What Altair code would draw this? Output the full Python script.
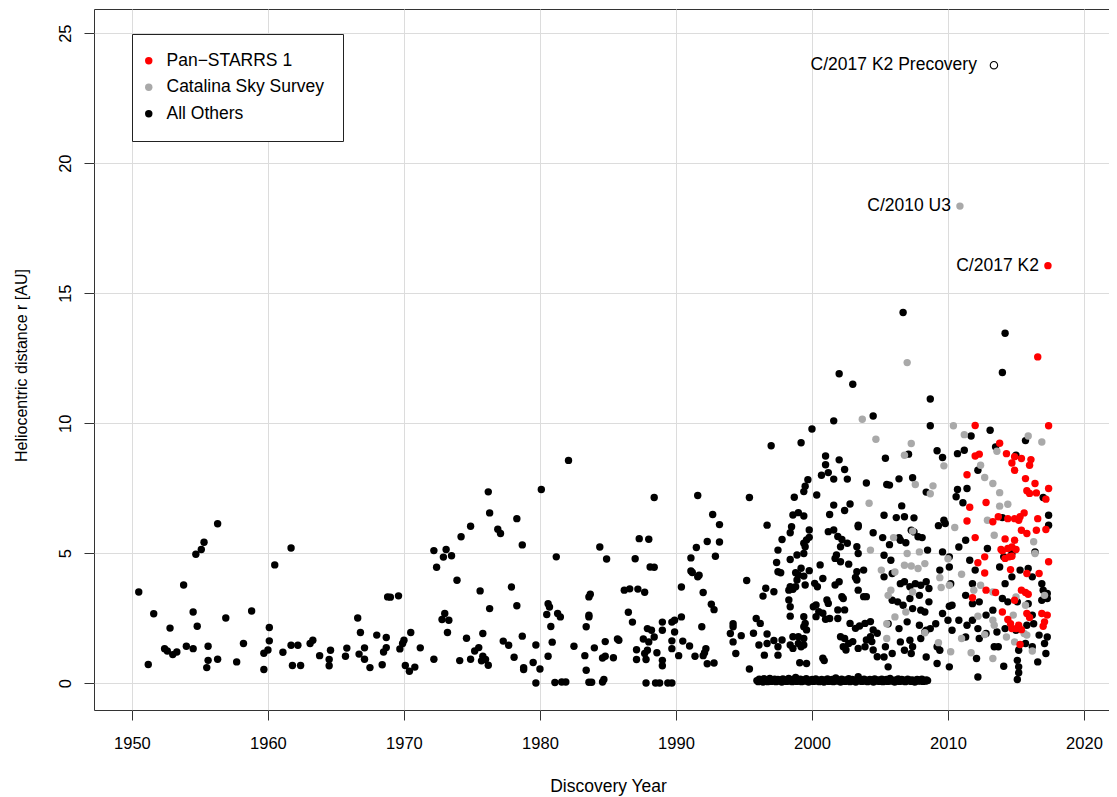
import altair as alt
import pandas as pd

FONT = "Liberation Sans, Arial, Helvetica, sans-serif"

SURVEYS = ["Pan\u2212STARRS 1", "Catalina Sky Survey", "All Others"]
COLORS = ["#ff0000", "#a9a9a9", "#000000"]
X_TICKS = [1950, 1960, 1970, 1980, 1990, 2000, 2010, 2020]
Y_TICKS = [0, 5, 10, 15, 20, 25]
X_DOMAIN = [1947.21, 2021.84]
Y_DOMAIN = [-1.03, 25.93]

OTHERS_EARLY = [
    (1950.5,3.51),(1951.2,0.72),(1951.6,2.67),(1952.8,2.12),(1952.4,1.33),(1952.6,1.24),(1953.0,1.10),(1953.3,1.20),
    (1953.8,3.78),(1954.0,1.42),(1954.5,2.74),(1954.5,1.33),(1954.8,2.19),(1954.7,4.96),(1955.1,5.14),(1955.3,5.42),
    (1956.3,6.13),(1955.6,1.42),(1955.6,0.88),(1955.5,0.60),(1956.3,0.92),(1956.9,2.51),(1957.7,0.82),(1958.2,1.53),
    (1958.8,2.78),(1959.7,0.53),(1959.7,1.15),(1960.0,1.28),(1960.1,1.63),(1960.1,2.14),(1960.5,4.55),(1961.7,5.20),
    (1961.1,1.19),(1961.7,1.46),(1962.2,1.46),(1961.8,0.68),(1962.4,0.68),(1963.1,1.53),(1963.3,1.65),(1963.8,1.06),
    (1964.5,0.67),(1964.5,0.91),(1964.6,1.27),(1965.7,1.04),(1965.8,1.35),(1966.6,2.51),(1966.8,1.95),(1966.7,1.12),
    (1967.1,1.36),(1967.1,0.92),(1967.5,0.60),(1968.0,1.85),(1968.4,0.71),(1968.7,1.76),(1968.7,1.37),(1968.5,1.20),
    (1968.8,3.32),(1969.0,3.31),(1969.6,3.36),(1969.7,1.32),(1969.9,1.53),(1970.0,1.65),(1970.5,1.95),(1970.1,0.68),
    (1970.4,0.46),(1970.8,0.62),(1971.2,1.36),(1972.2,0.92),(1972.2,5.10),(1972.4,4.46),(1972.9,4.85),(1973.1,5.14),
    (1972.8,2.45),(1973.0,2.68),(1973.2,1.95),(1973.5,4.90),(1973.9,3.96),(1973.3,2.42),(1974.2,5.63),(1974.9,6.04),
    (1976.2,7.36),(1976.3,6.55),(1976.9,5.92),(1977.1,5.76),(1978.3,6.33),(1978.7,5.32),(1975.6,3.55),(1976.3,2.87),
    (1977.9,3.70),(1978.3,2.98),(1974.6,1.73),(1975.8,1.91),(1975.2,1.24),(1975.5,1.37),(1974.1,0.87),(1974.9,0.92),
    (1975.8,1.04),(1975.7,0.86),(1976.0,0.91),(1976.2,0.69),(1977.3,1.62),(1977.7,1.46),(1978.1,1.00),(1978.7,1.81),
    (1978.8,0.60),(1978.8,0.53),(1979.7,1.47),(1979.5,0.80),(1980.0,0.55),(1979.7,0.01),(1980.1,7.45),(1981.2,4.86),
    (1982.1,8.57),(1980.5,2.64),(1980.6,3.06),(1980.7,2.93),(1980.8,2.18),(1981.3,2.68),(1981.5,2.55),(1980.9,1.58),
    (1980.6,1.04),(1982.5,1.42),(1981.1,0.03),(1981.6,0.05),(1981.9,0.05),(1983.3,1.06),(1983.4,0.50),(1983.4,2.17),
    (1983.6,3.32),(1983.7,3.42),(1983.6,2.55),(1983.6,2.62),(1983.6,0.04),(1983.8,0.04),(1984.0,1.36),(1984.6,0.97),
    (1984.8,1.04),(1985.4,0.98),(1984.8,1.60),(1984.4,5.24),(1984.9,4.78),(1984.6,0.05),(1984.7,0.14),(1985.7,1.70),
    (1985.8,1.65),(1986.2,3.58),(1986.6,3.63),(1987.2,3.62),(1987.7,3.50),(1986.5,2.73),(1986.8,2.35),(1987.0,4.79),
    (1987.3,5.56),(1988.0,5.54),(1988.1,4.47),(1988.4,4.46),(1988.4,7.14),(1987.1,1.29),(1987.1,0.91),(1987.6,1.70),
    (1987.7,1.14),(1987.8,0.91),(1987.9,1.27),(1987.9,2.10),(1988.0,1.59),(1988.2,2.04),(1988.4,1.78),(1988.6,1.17),
    (1989.0,0.88),(1989.0,0.67),(1989.0,2.35),(1989.0,2.04),(1989.7,2.35),(1989.9,2.42),(1989.7,1.63),(1989.7,1.33),
    (1989.9,1.97),(1990.2,1.06),(1990.5,1.62),(1990.4,2.55),(1991.0,1.43),(1987.8,0.01),(1988.5,0.01),(1988.8,0.01),
    (1989.4,0.01),(1989.7,0.01),(1990.4,3.70),(1991.1,4.82),(1991.5,5.22),(1991.6,7.22),(1991.1,4.32),(1991.2,4.26),
    (1991.6,4.09),(1991.7,4.15),(1992.0,3.49),(1992.3,5.45),(1992.7,6.49),(1992.9,4.88),(1993.2,6.10),(1993.2,5.43),
    (1991.9,2.17),(1991.4,1.04),(1992.0,1.06),(1992.1,1.17),(1992.2,1.33),(1992.3,0.75),(1992.8,0.78),(1992.6,3.04),
    (1992.8,2.83),(1994.0,1.91),(1994.2,2.29),(1994.2,2.17),(1994.2,1.59),(1994.4,1.14),(1994.8,1.83),(1995.2,3.95),
    (1995.4,7.14),(1995.4,0.55),
]

OTHERS_1995_2005 = [
    (1997.0,9.13),(1999.2,9.25),(1999.7,7.83),(1999.5,7.58),(2000.0,9.78),(2001.6,10.09),(2002.0,11.90),(2003.0,11.50),
    (2004.5,10.28),(2001.0,8.74),(2002.0,8.59),(2001.0,8.40),(2001.2,8.10),(2000.7,8.00),(2001.6,7.85),(2002.4,8.22),
    (2002.6,7.85),(2004.0,7.70),
    (1998.7,7.15),(1999.4,7.37),(2000.35,7.24),(2001.6,6.85),(2002.8,6.89),(2002.4,6.64),(2001.3,6.49),(2003.4,6.08),
    (2003.4,6.02),(2004.5,5.79),(1998.6,6.47),(1999.0,6.56),(1999.4,6.43),(1996.7,6.08),(1998.5,6.02),(1998.4,5.79),
    (1999.8,5.89),(1997.8,5.53),(1997.5,5.12),(1997.4,4.64),(1997.5,4.29),(1997.7,4.25),(1999.4,5.38),(1999.6,5.51),
    (1999.8,5.61),(1999.5,5.25),(1999.4,4.99),(1998.4,4.76),(1998.9,4.93),(1999.2,4.42),(1999.8,4.33),(1998.8,4.25),
    (1998.9,3.97),(1999.0,4.16),(1999.4,4.12),(1999.5,3.78),(1998.4,3.71),(1998.3,3.58),(1998.6,3.61),(1998.8,3.71),
    (2000.6,4.55),(2000.8,4.03),(2000.2,3.84),(2000.4,3.71),(2000.1,2.94),(2000.3,3.01),(2000.5,2.75),(2000.3,2.56),
    (2001.2,5.83),(2001.6,5.89),(2001.9,5.64),(2002.2,5.53),(2002.6,5.38),(2002.1,5.25),(2001.8,4.93),(2001.7,4.80),
    (2002.1,4.67),(2002.7,4.58),(2003.3,5.25),(2003.4,4.99),(2003.3,4.29),(2003.8,4.35),(2003.2,4.07),(2003.3,3.97),
    (2003.4,3.58),(2003.8,3.33),(2004.0,3.33),(2001.7,3.78),(2002.0,3.90),(2002.2,3.33),(2002.3,3.26),(2002.4,2.82),
    (2001.9,2.82),(2001.9,2.49),(2001.1,3.20),(2001.2,3.07),(2000.8,2.69),(2001.0,2.46),(2001.3,2.49),(2002.8,2.30),
    (2003.2,2.11),(2003.5,2.20),(2003.9,2.30),(2004.3,2.37),(2004.5,2.05),(2004.8,1.92),(2004.3,1.79),(2004.0,1.66),
    (2002.1,1.79),(2002.4,1.72),(2002.7,1.53),(2003.0,1.60),(2002.3,1.40),(2002.5,1.28),(2003.4,1.34),(2003.9,1.40),
    (2004.4,1.60),(2004.5,1.28),(2004.8,1.02),(1995.7,1.92),(1996.7,1.89),(1996.1,1.47),(1996.7,1.53),(1997.2,1.64),
    (1997.5,1.40),(1997.8,1.66),(1998.4,1.47),(1998.6,1.79),(1999.0,1.79),(1999.4,1.72),(1998.6,1.34),(1999.0,1.53),
    (1999.2,1.40),(1999.4,1.47),(1995.9,2.49),(1996.2,2.30),(1996.5,1.08),(1997.5,1.08),(1999.1,0.79),(1999.6,0.76),
    (2000.8,0.96),(2000.9,0.87),(1998.3,3.20),(1998.4,2.94),(1998.4,2.58),(1999.4,2.56),(1999.5,2.30),(1999.4,2.17),
    (1999.6,2.05),(1996.6,3.65),(1997.2,3.52),(1996.4,3.35),
]

OTHERS_2005_2010 = [
    (2006.7,14.26),(2008.7,10.93),(2008.7,9.90),(2005.4,8.65),(2007.1,8.81),(2009.2,8.94),(2009.6,8.68),(2006.4,7.86),
    (2007.4,7.90),(2005.5,7.64),(2005.7,7.62),(2008.4,7.35),(2006.6,6.82),(2005.3,6.46),(2006.2,6.37),(2006.8,6.40),
    (2007.5,6.36),(2009.3,6.06),(2009.7,6.27),(2009.8,6.14),(2006.4,5.60),(2006.5,5.50),(2006.9,5.40),(2007.3,5.88),
    (2007.5,5.82),(2007.8,5.63),(2008.1,5.60),(2008.5,5.12),(2005.2,5.60),(2005.7,5.33),(2009.6,5.05),(2010.1,4.86),
    (2009.4,4.35),(2010.1,4.47),(2010.2,3.83),(2010.3,3.00),(2010.1,2.96),(2009.6,2.68),(2010.0,2.42),(2010.3,2.04),
    (2009.4,1.27),(2009.2,1.40),(2010.1,0.63),(2009.2,0.76),(2005.3,4.92),(2005.8,4.73),(2005.3,4.09),(2005.9,4.22),
    (2006.5,3.83),(2006.8,3.90),(2007.2,3.71),(2007.6,3.83),(2008.0,3.77),(2008.4,3.90),(2008.6,3.64),(2005.9,3.19),
    (2006.3,3.13),(2006.7,3.00),(2007.2,3.26),(2007.4,2.87),(2007.9,3.38),(2008.0,2.81),(2008.3,2.74),(2008.6,3.13),
    (2005.6,2.29),(2006.4,2.10),(2007.0,2.36),(2007.9,2.23),(2008.4,2.04),(2008.7,2.10),(2009.1,2.29),(2006.5,1.59),
    (2007.2,1.65),(2007.4,1.40),(2008.0,1.72),(2008.3,1.97),(2005.4,1.40),(2005.3,1.01),(2005.9,1.14),(2006.8,1.27),
    (2007.3,1.14),(2008.4,1.01),(2005.6,0.63),
]

OTHERS_2010_2018 = [
    (2014.2,13.46),(2014.0,11.95),(2013.1,9.73),(2011.7,9.51),(2013.5,9.09),(2015.7,9.33),(2015.0,8.77),(2010.7,8.83),
    (2011.2,8.96),(2012.2,8.19),(2010.7,7.45),(2010.6,7.17),(2011.4,7.49),(2011.1,6.94),(2017.0,7.14),(2017.4,6.46),
    (2017.4,6.08),(2011.3,5.50),(2012.9,5.18),(2014.0,6.37),(2014.1,4.86),(2014.7,4.99),(2010.8,5.24),(2011.6,4.73),
    (2012.0,4.35),(2011.8,3.83),(2013.8,4.47),(2014.2,3.83),(2014.7,4.09),(2015.3,4.35),(2015.9,4.41),(2016.2,4.09),
    (2016.4,5.05),(2016.9,3.83),(2017.0,3.58),(2017.3,3.45),(2011.3,3.38),(2011.8,3.06),(2012.3,3.13),(2012.8,2.62),
    (2013.3,2.81),(2014.0,3.26),(2014.4,3.13),(2015.1,3.13),(2015.9,3.06),(2016.2,2.62),(2016.9,3.19),(2017.3,3.26),
    (2010.8,2.42),(2011.4,2.23),(2011.8,2.42),(2012.2,2.10),(2012.8,1.91),(2013.6,1.97),(2014.2,2.10),(2015.0,2.04),
    (2015.8,2.23),(2016.3,2.29),(2016.7,1.85),(2017.1,1.53),(2017.3,1.78),(2011.3,1.78),(2012.3,1.72),(2013.4,1.40),
    (2013.7,1.40),(2015.2,1.27),(2015.7,1.53),(2016.2,1.40),(2016.6,0.82),(2017.2,1.14),(2012.1,0.95),(2012.2,0.24),
    (2014.1,0.65),(2015.1,0.88),(2015.2,0.63),(2015.2,0.40),(2015.1,0.14),
]

OTHERS_ZERO_BAND = [
    (1995.95,0.10),(1996.05,0.06),(1996.12,0.15),(1996.2,0.08),(1996.31,0.12),(1996.4,0.05),(1996.47,0.17),(1996.55,0.09),
    (1996.66,0.13),(1996.74,0.06),(1996.83,0.11),(1996.9,0.18),(1997.0,0.07),(1997.08,0.12),(1997.17,0.09),(1997.26,0.15),
    (1997.35,0.06),(1997.42,0.11),(1997.5,0.14),(1997.61,0.08),(1997.7,0.12),(1997.78,0.05),(1997.86,0.16),(1997.95,0.09),
    (1998.03,0.13),(1998.12,0.07),(1998.2,0.11),(1998.29,0.18),(1998.37,0.08),(1998.46,0.12),(1998.55,0.06),(1998.63,0.14),
    (1998.72,0.10),(1998.8,0.22),(1998.88,0.07),(1998.97,0.12),(1999.06,0.09),(1999.15,0.15),(1999.23,0.06),(1999.32,0.11),
    (1999.41,0.13),(1999.5,0.08),(1999.58,0.17),(1999.66,0.10),(1999.75,0.05),(1999.84,0.12),(1999.93,0.09),(2000.02,0.14),
    (2000.1,0.07),(2000.19,0.11),(2000.28,0.16),(2000.36,0.08),(2000.45,0.12),(2000.54,0.06),(2000.62,0.10),(2000.71,0.14),
    (2000.8,0.09),(2000.88,0.05),(2000.97,0.13),(2001.05,0.10),(2001.14,0.16),(2001.23,0.07),(2001.31,0.12),(2001.4,0.09),
    (2001.49,0.14),(2001.57,0.06),(2001.66,0.11),(2001.75,0.20),(2001.83,0.08),(2001.92,0.12),(2002.01,0.10),(2002.1,0.05),
    (2002.18,0.15),(2002.27,0.09),(2002.36,0.12),(2002.44,0.07),(2002.53,0.13),(2002.62,0.10),(2002.7,0.17),(2002.79,0.06),
    (2002.88,0.11),(2002.96,0.14),(2003.05,0.08),(2003.14,0.12),(2003.22,0.05),(2003.31,0.10),(2003.4,0.25),(2003.48,0.09),
    (2003.57,0.13),(2003.66,0.07),(2003.74,0.11),(2003.83,0.15),(2003.92,0.08),(2004.0,0.12),(2004.09,0.06),(2004.18,0.10),
    (2004.26,0.14),(2004.35,0.09),(2004.44,0.12),(2004.52,0.05),(2004.61,0.16),(2004.7,0.08),(2004.78,0.11),(2004.87,0.13),
    (2004.96,0.07),(2005.04,0.10),(2005.13,0.15),(2005.22,0.06),(2005.3,0.12),(2005.39,0.09),(2005.48,0.14),(2005.56,0.07),
    (2005.65,0.11),(2005.74,0.18),(2005.82,0.08),(2005.91,0.12),(2006.0,0.10),(2006.08,0.05),(2006.17,0.13),(2006.26,0.09),
    (2006.34,0.16),(2006.43,0.07),(2006.52,0.11),(2006.6,0.14),(2006.69,0.08),(2006.78,0.12),(2006.86,0.06),(2006.95,0.10),
    (2007.04,0.15),(2007.12,0.09),(2007.21,0.12),(2007.3,0.07),(2007.38,0.13),(2007.47,0.10),(2007.56,0.05),(2007.64,0.11),
    (2007.73,0.14),(2007.82,0.08),(2007.9,0.12),(2007.99,0.09),(2008.08,0.15),(2008.16,0.07),(2008.25,0.11),(2008.34,0.08),
    (2008.42,0.13),(2008.5,0.10),
]

CATALINA = [
    (2007.0,12.33),(2003.7,10.15),(2004.7,9.38),(2007.3,9.22),(2006.8,8.77),(2009.7,8.36),(2010.4,9.90),(2011.2,9.56),
    (2015.9,9.51),(2016.9,9.28),(2013.6,8.92),(2012.4,8.38),(2007.6,7.64),(2008.9,7.59),(2008.7,7.29),(2004.2,6.92),
    (2012.7,7.91),(2013.3,7.68),(2013.8,7.33),(2014.4,6.88),(2013.8,6.81),(2010.5,5.99),(2006.0,5.60),(2007.4,5.85),
    (2004.3,5.12),(2007.9,5.05),(2007.0,4.99),(2006.8,4.54),(2007.3,4.51),(2007.8,4.41),(2008.3,4.60),(2005.1,4.35),
    (2006.1,4.28),(2009.4,4.06),(2010.1,3.77),(2009.5,3.68),(2010.0,4.79),(2011.0,4.19),(2012.9,6.27),(2013.4,5.69),
    (2016.3,5.44),(2016.4,4.99),(2017.1,3.38),(2011.9,3.58),(2012.4,3.77),(2013.3,3.51),(2005.6,3.38),(2007.4,3.51),
    (2005.8,3.58),(2006.9,2.74),(2006.1,2.55),(2005.5,2.29),(2005.5,1.72),(2008.3,1.94),(2009.3,1.56),(2012.2,2.58),
    (2013.3,2.42),(2013.4,2.23),(2014.8,2.62),(2015.6,1.91),(2015.8,1.85),(2014.9,1.59),(2014.3,1.78),(2012.7,1.87),
    (2011.0,1.72),(2011.7,1.17),(2013.3,0.95),(2010.2,1.21),(2016.2,1.24),(2015.7,3.00),(2015.0,3.32),(2010.88,18.35),
]

PANSTARRS = [
    (2016.6,12.55),(2017.4,9.90),(2012.0,9.91),(2013.8,9.23),(2014.3,8.83),(2014.9,8.71),(2015.4,8.64),(2014.7,8.47),
    (2014.9,8.19),(2016.1,8.60),(2016.0,8.38),(2015.7,7.87),(2016.4,7.68),(2015.8,7.40),(2016.0,7.30),(2016.5,7.32),
    (2017.4,7.49),(2017.2,7.08),(2012.0,8.74),(2012.3,8.81),(2011.4,8.02),(2011.6,6.77),(2012.8,6.95),(2011.4,6.24),
    (2013.7,6.40),(2013.3,6.21),(2014.4,6.33),(2014.9,6.33),(2015.2,6.27),(2015.3,6.40),(2015.6,6.55),(2016.6,6.33),
    (2017.2,5.91),(2016.5,5.88),(2015.4,5.88),(2015.8,5.76),(2012.0,5.60),(2014.2,5.55),(2014.9,5.50),(2014.7,5.24),
    (2014.4,5.18),(2014.0,5.09),(2013.9,5.14),(2015.0,5.14),(2014.7,4.88),(2014.5,4.86),(2014.2,4.80),(2012.7,4.86),
    (2012.2,4.63),(2012.7,4.24),(2014.6,4.37),(2015.8,4.22),(2016.7,4.22),(2017.4,4.67),(2012.8,3.58),(2013.5,3.49),
    (2011.8,3.29),(2014.9,3.19),(2015.4,3.58),(2015.7,3.49),(2015.9,3.42),(2014.0,2.74),(2015.8,2.68),(2016.0,2.53),
    (2016.9,2.68),(2017.3,2.62),(2017.1,2.36),(2017.0,2.19),(2014.4,2.45),(2014.6,2.29),(2014.7,2.10),(2015.0,2.10),
    (2015.4,2.06),(2015.2,2.23),(2015.3,1.49),(2017.35,16.06),
]

PRECOVERY = [(2013.38, 23.77)]

LABEL_PRECOVERY = ("C/2017 K2 Precovery", 2013.38, 23.77)
LABEL_U3 = ("C/2010 U3", 2010.88, 18.35)
LABEL_K2 = ("C/2017 K2", 2017.35, 16.06)

rows = []
for grp in (OTHERS_EARLY, OTHERS_1995_2005, OTHERS_2005_2010, OTHERS_2010_2018, OTHERS_ZERO_BAND):
    rows += [{"year": y, "r": r, "survey": SURVEYS[2]} for y, r in grp]
rows += [{"year": y, "r": r, "survey": SURVEYS[1]} for y, r in CATALINA]
rows += [{"year": y, "r": r, "survey": SURVEYS[0]} for y, r in PANSTARRS]
df = pd.DataFrame(rows)

x_enc = alt.X(
    "year:Q",
    scale=alt.Scale(domain=X_DOMAIN, nice=False, zero=False),
    axis=alt.Axis(values=X_TICKS, title="Discovery Year", format="d", labelPadding=15,
                  labelFlush=False, labelOverlap=False, titleX=514, titleY=81.5,
                  titleBaseline="alphabetic", titleFontSize=17.5),
)
y_enc = alt.Y(
    "r:Q",
    scale=alt.Scale(domain=Y_DOMAIN, nice=False, zero=False),
    axis=alt.Axis(values=Y_TICKS, title="Heliocentric distance r [AU]", labelAngle=270,
                  labelAlign="center", labelBaseline="alphabetic", labelPadding=14,
                  labelFlush=False, labelOverlap=False, titleAngle=270, titleX=-68,
                  titleY=356, titleBaseline="alphabetic", titleFontSize=16),
)

points = alt.Chart(df).mark_circle(size=55, opacity=1).encode(
    x=x_enc,
    y=y_enc,
    color=alt.Color(
        "survey:N",
        scale=alt.Scale(domain=SURVEYS, range=COLORS),
        legend=alt.Legend(
            orient="none", legendX=38, legendY=25, title=None, padding=18,
            strokeColor="#222", fillColor="white", labelFontSize=17.5, labelFont=FONT,
            labelColor="black", symbolType="circle", symbolSize=55, labelOffset=9,
            symbolOffset=-10, rowPadding=7.5, labelLimit=400, symbolStrokeWidth=0,
        ),
    ),
)

pre = alt.Chart(pd.DataFrame([{"year": y, "r": r} for y, r in PRECOVERY])).mark_point(
    shape="circle", filled=False, color="black", size=55, strokeWidth=1.1, opacity=1
).encode(x=x_enc, y=y_enc)


def label_layer(lab, dx):
    d = pd.DataFrame([{"label": lab[0], "year": lab[1], "r": lab[2]}])
    return alt.Chart(d).mark_text(
        align="right", baseline="middle", dx=dx, fontSize=17.5, font=FONT, color="black"
    ).encode(x=x_enc, y=y_enc, text="label:N")


chart = alt.layer(
    points, pre,
    label_layer(LABEL_PRECOVERY, -17),
    label_layer(LABEL_U3, -9),
    label_layer(LABEL_K2, -9),
).properties(
    width=1015, height=701,
    padding={"left": 86, "top": 1, "right": 0, "bottom": 86},
    autosize=alt.AutoSizeParams(type="none"),
).configure_view(
    stroke="#333", strokeWidth=1
).configure_axis(
    labelFont=FONT, titleFont=FONT, labelFontSize=16.5, titleFontSize=17.5,
    titleFontWeight="normal", labelColor="black", titleColor="black",
    tickColor="#333", tickSize=10, tickWidth=1, domain=False,
    grid=True, gridColor="#dcdcdc", gridWidth=1,
)

chart.save("out.html", embed_options={"renderer": "svg", "actions": False})
